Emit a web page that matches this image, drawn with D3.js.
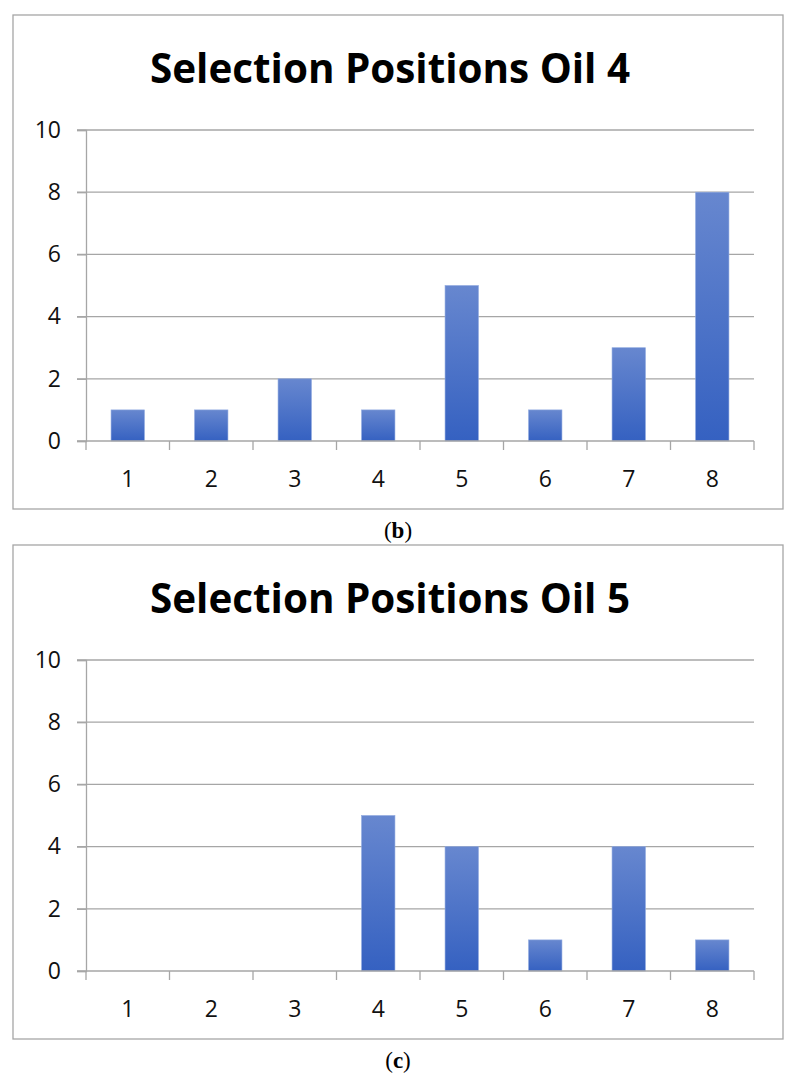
<!DOCTYPE html>
<html>
<head>
<meta charset="utf-8">
<script src="https://cdn.jsdelivr.net/npm/d3@7"></script>
<style>
  body { margin: 0; background: #fff; }
</style>
</head>
<body>
<svg id="chart"></svg>
<script>
// data
var categories = ["1", "2", "3", "4", "5", "6", "7", "8"];
var oil4Values = [1, 1, 2, 1, 5, 1, 3, 8];
var oil5Values = [0, 0, 0, 5, 4, 1, 4, 1];
var yTicks = [0, 2, 4, 6, 8, 10];
var titles = ["Selection Positions Oil 4", "Selection Positions Oil 5"];
var captions = ["b", "c"];

var svgWidth = 797, svgHeight = 1083;
var svg = d3.select("#chart")
    .attr("width", svgWidth)
    .attr("height", svgHeight);

var defs = svg.append("defs");
var grad = defs.append("linearGradient")
    .attr("id", "barGrad")
    .attr("x1", 0).attr("y1", 0).attr("x2", 0).attr("y2", 1);
grad.append("stop").attr("offset", "0%").attr("stop-color", "#6787cf");
grad.append("stop").attr("offset", "100%").attr("stop-color", "#3561c1");

var frame = { left: 13, width: 770, height: 494 };
var plot = { left: 86, right: 754, top: 115, bottom: 426 }; // relative to frame top

var x = d3.scaleBand()
    .domain(categories)
    .range([plot.left, plot.right])
    .paddingInner(0.6)
    .paddingOuter(0.3);

var y = d3.scaleLinear()
    .domain([0, 10])
    .range([plot.bottom, plot.top]);

var sans = "'Open Sans', 'Liberation Sans', sans-serif";

function drawPanel(offsetY, title, values, caption) {
  var g = svg.append("g").attr("transform", "translate(0," + offsetY + ")");

  g.append("rect")
    .attr("x", frame.left)
    .attr("y", 0)
    .attr("width", frame.width)
    .attr("height", frame.height)
    .attr("fill", "#fff")
    .attr("stroke", "#a6a6a6")
    .attr("stroke-width", 1.3);

  g.append("text")
    .attr("x", 390)
    .attr("y", 68)
    .attr("text-anchor", "middle")
    .attr("font-family", sans)
    .attr("font-weight", "bold")
    .attr("font-size", 42)
    .attr("textLength", 480)
    .attr("lengthAdjust", "spacingAndGlyphs")
    .attr("fill", "#000")
    .text(title);

  // gridlines
  g.append("g")
    .selectAll("line")
    .data(yTicks.filter(function(d) { return d > 0; }))
    .enter().append("line")
    .attr("x1", plot.left - 9)
    .attr("x2", plot.right)
    .attr("y1", function(d) { return y(d); })
    .attr("y2", function(d) { return y(d); })
    .attr("stroke", "#a6a6a6")
    .attr("stroke-width", 1.3);

  // y axis
  var yAxis = g.append("g")
    .attr("transform", "translate(" + plot.left + ",0)")
    .call(d3.axisLeft(y).tickValues(yTicks).tickSize(9).tickPadding(16));
  yAxis.select(".domain").attr("stroke", "#a6a6a6").attr("stroke-width", 1.3);
  yAxis.selectAll(".tick line").attr("stroke", "#a6a6a6").attr("stroke-width", 1.3);
  yAxis.selectAll(".tick text")
    .attr("font-family", sans)
    .attr("font-size", 23)
    .attr("fill", "#111");

  // bars
  g.append("g")
    .selectAll("rect")
    .data(values)
    .enter().append("rect")
    .attr("x", function(d, i) { return x(categories[i]); })
    .attr("y", function(d) { return y(d); })
    .attr("width", x.bandwidth())
    .attr("height", function(d) { return y(0) - y(d); })
    .attr("fill", "url(#barGrad)")
    .attr("stroke", "#8fa9e0")
    .attr("stroke-width", 0.6);

  // x axis, ticks at band boundaries
  var bounds = d3.range(categories.length + 1).map(function(i) { return plot.left + i * (plot.right - plot.left) / categories.length; });
  var xa = g.append("g");
  xa.append("line")
    .attr("x1", plot.left - 9)
    .attr("x2", plot.right)
    .attr("y1", y(0))
    .attr("y2", y(0))
    .attr("stroke", "#a6a6a6")
    .attr("stroke-width", 1.3);
  xa.selectAll(".btick")
    .data(bounds)
    .enter().append("line")
    .attr("class", "btick")
    .attr("x1", function(d) { return d; })
    .attr("x2", function(d) { return d; })
    .attr("y1", y(0))
    .attr("y2", y(0) + 9)
    .attr("stroke", "#a6a6a6")
    .attr("stroke-width", 1.3);
  xa.selectAll(".xlab")
    .data(categories)
    .enter().append("text")
    .attr("class", "xlab")
    .attr("x", function(d) { return x(d) + x.bandwidth() / 2; })
    .attr("y", y(0) + 46)
    .attr("text-anchor", "middle")
    .attr("font-family", sans)
    .attr("font-size", 23)
    .attr("fill", "#111")
    .text(function(d) { return d; });

  // caption
  var cap = g.append("text")
    .attr("x", 398)
    .attr("y", frame.height + 29)
    .attr("text-anchor", "middle")
    .attr("font-family", "'Liberation Serif', 'DejaVu Serif', serif")
    .attr("font-size", 23)
    .attr("fill", "#000");
  cap.append("tspan").text("(");
  cap.append("tspan").attr("font-weight", "bold").text(caption);
  cap.append("tspan").text(")");
}

drawPanel(15, titles[0], oil4Values, captions[0]);
drawPanel(545, titles[1], oil5Values, captions[1]);
</script>
</body>
</html>
